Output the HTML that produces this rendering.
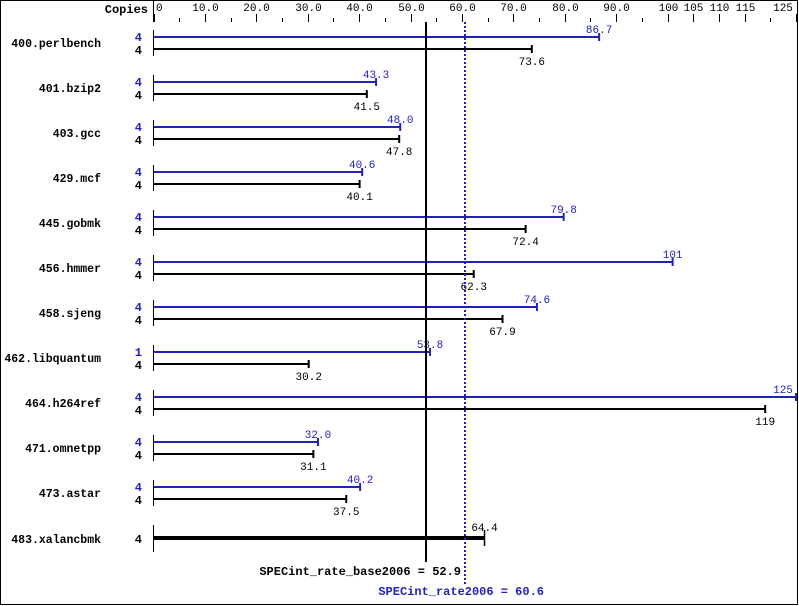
<!DOCTYPE html>
<html><head><meta charset="utf-8"><style>
html,body{margin:0;padding:0;background:#fff}
svg{display:block}
text{font-family:"Liberation Mono","DejaVu Sans Mono",monospace}
.n{font-size:12px;font-weight:bold;text-anchor:end}
.nm{font-size:11.5px;font-weight:bold;text-anchor:end}
.t{font-size:11px;text-anchor:middle}
</style></head><body>
<svg width="799" height="606" viewBox="0 0 799 606" xmlns="http://www.w3.org/2000/svg">
<rect x="0.5" y="0.5" width="797" height="604" fill="#fff" stroke="#000"/>
<text x="148" y="13" class="n">Copies</text>
<line x1="153.5" y1="0" x2="153.5" y2="22" stroke="#000"/>
<g id="ticks" stroke="#000"></g>
<g id="tl"></g>
<g id="rows"></g>
<line x1="426" y1="22" x2="426" y2="562" stroke="#000" stroke-width="2"/>
<line x1="465" y1="22" x2="465" y2="586" stroke="#2222bb" stroke-width="2" stroke-dasharray="2,2"/>
<text x="461" y="575" class="n">SPECint_rate_base2006 = 52.9</text>
<text x="544" y="595" class="n" style="fill:#2222bb">SPECint_rate2006 = 60.6</text>
</svg>
<script>
var NS="http://www.w3.org/2000/svg";
function X(v){return 153.5+5.14*v}
function el(t,a,p,txt){var e=document.createElementNS(NS,t);for(var k in a)e.setAttribute(k,a[k]);if(txt!=null)e.textContent=txt;document.getElementById(p).appendChild(e);return e}
var labs={0:"0",10:"10.0",20:"20.0",30:"30.0",40:"40.0",50:"50.0",60:"60.0",70:"70.0",80:"80.0",90:"90.0",100:"100",105:"105",110:"110",115:"115",125:"125"};
for(var v=0;v<=125;v+=5){var x=Math.round(X(v))+0.5;var L=labs[v]!==undefined;
el("line",{x1:x,x2:x,y1:L?14:18,y2:22},"ticks");
if(L&&v>0&&v<125)el("text",{x:x,y:11,"class":"t"},"tl",labs[v]);}
el("text",{x:783,y:11,"class":"t"},"tl","125");
el("text",{x:156,y:11,"class":"t",style:"text-anchor:start"},"tl","0");
var d=[["400.perlbench",4,86.7,4,73.6],["401.bzip2",4,43.3,4,41.5],["403.gcc",4,48.0,4,47.8],["429.mcf",4,40.6,4,40.1],["445.gobmk",4,79.8,4,72.4],["456.hmmer",4,101,4,62.3],["458.sjeng",4,74.6,4,67.9],["462.libquantum",1,53.8,4,30.2],["464.h264ref",4,125,4,119],["471.omnetpp",4,32.0,4,31.1],["473.astar",4,40.2,4,37.5]];
d.forEach(function(r,i){var b=37+45*i,k=49+45*i;
el("text",{x:101,y:b+10,"class":"nm"},"rows",r[0]);
el("text",{x:142,y:b+4,"class":"n",fill:"#2222bb"},"rows",r[1]);
el("text",{x:142,y:k+5,"class":"n"},"rows",r[3]);
el("line",{x1:153.5,x2:153.5,y1:b-7,y2:k+7,stroke:"#000"},"rows");
var xb=X(r[2]),xk=X(r[4]);
el("line",{x1:154,x2:xb,y1:b,y2:b,stroke:"#2222bb","stroke-width":2},"rows");
el("line",{x1:xb,x2:xb,y1:b-4,y2:b+4,stroke:"#2222bb","stroke-width":2},"rows");
el("line",{x1:154,x2:xk,y1:k,y2:k,stroke:"#000","stroke-width":2},"rows");
el("line",{x1:xk,x2:xk,y1:k-4,y2:k+4,stroke:"#000","stroke-width":2},"rows");
var s=r[2]%1===0&&r[2]<100?r[2].toFixed(1):String(r[2]);
el("text",{x:Math.min(xb,783),y:b-4,"class":"t",fill:"#2222bb"},"rows",s);
var s2=r[4]%1===0&&r[4]<100?r[4].toFixed(1):String(r[4]);
el("text",{x:xk,y:k+16,"class":"t"},"rows",s2);
});
el("text",{x:101,y:543,"class":"nm"},"rows","483.xalancbmk");
el("text",{x:142,y:543,"class":"n"},"rows","4");
el("line",{x1:153.5,x2:153.5,y1:525,y2:552,stroke:"#000"},"rows");
el("line",{x1:154,x2:X(64.4),y1:538,y2:538,stroke:"#000","stroke-width":4},"rows");
el("line",{x1:X(64.4),x2:X(64.4),y1:530,y2:546,stroke:"#000","stroke-width":1.5},"rows");
el("text",{x:X(64.4),y:531,"class":"t"},"rows","64.4");
</script>
</body></html>
